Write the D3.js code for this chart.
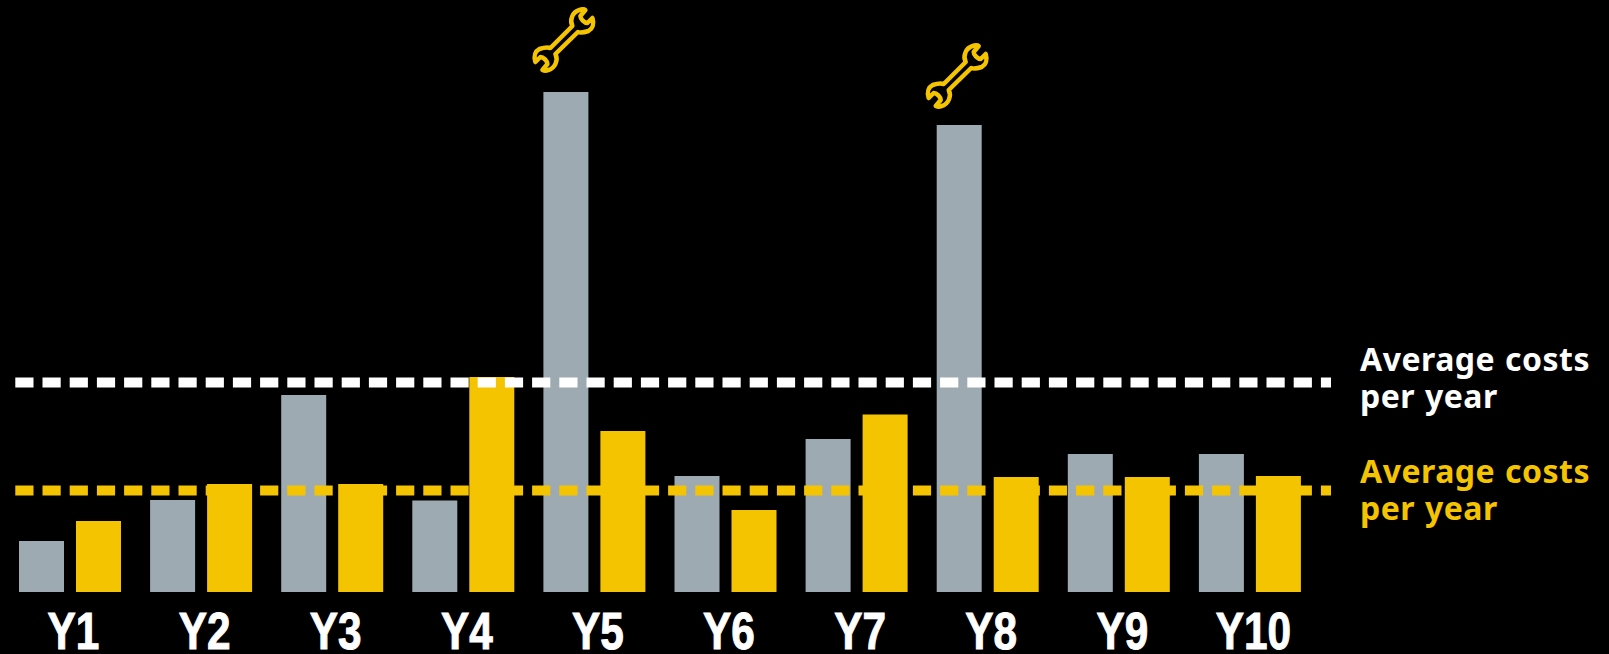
<!DOCTYPE html>
<html>
<head>
<meta charset="utf-8">
<script src="https://cdn.jsdelivr.net/npm/d3@7"></script>
<style>
  html, body { margin: 0; padding: 0; background: #000; overflow: hidden; }
  svg { display: block; }
</style>
</head>
<body>
<div id="chart"></div>
<script>
// Values, as a share of the tallest bar
const years = ["Y1", "Y2", "Y3", "Y4", "Y5", "Y6", "Y7", "Y8", "Y9", "Y10"];
const greyCosts = [10.2, 18.4, 39.4, 18.3, 100, 23.2, 30.6, 93.4, 27.6, 27.6];
const yellowCosts = [14.2, 21.6, 21.6, 43, 32.2, 16.4, 35.5, 23, 23, 23.2];
const greyAverage = 41.9;
const yellowAverage = 20.3;
const averageLabel = ["Average costs", "per year"];
const repairYears = ["Y5", "Y8"];

const width = 1609, height = 654;
const grey = "#9eaab2", yellow = "#f5c400";
const baseline = 592, top100 = 92;

const svg = d3.select("#chart").append("svg")
  .attr("width", width).attr("height", height);

// Groups are about 131px apart, first one starts at 19
const x = d3.scaleBand().domain(years).range([19, 1330]).padding(0);
const y = d3.scaleLinear().domain([0, 100]).range([baseline, top100]);
const barW = 45;
const barGap = 12;

// grey bars
svg.selectAll(".grey").data(years).enter().append("rect")
  .attr("class", "grey")
  .attr("x", (d) => x(d))
  .attr("y", (d, i) => y(greyCosts[i]))
  .attr("width", barW)
  .attr("height", (d, i) => baseline - y(greyCosts[i]))
  .attr("fill", grey);

// dashed averages
function avgLine(value, color) {
  svg.append("line")
    .attr("x1", 15.3).attr("x2", 1331)
    .attr("y1", y(value)).attr("y2", y(value))
    .attr("stroke", color)
    .attr("stroke-width", 10)
    .attr("stroke-dasharray", "18.2 9");
}
avgLine(yellowAverage, yellow);

// yellow bars
svg.selectAll(".yellow").data(years).enter().append("rect")
  .attr("class", "yellow")
  .attr("x", (d) => x(d) + barW + barGap)
  .attr("y", (d, i) => y(yellowCosts[i]))
  .attr("width", barW)
  .attr("height", (d, i) => baseline - y(yellowCosts[i]))
  .attr("fill", yellow);

avgLine(greyAverage, "#fff");

// year labels, squeezed because no condensed face is installed
svg.append("g")
  .attr("transform", `translate(0,${baseline})`)
  .call(d3.axisBottom(x).tickSize(0).tickPadding(0))
  .call((g) => g.select(".domain").remove())
  .selectAll("text")
  .attr("y", 0)
  .attr("dy", 0)
  .attr("transform", `translate(${barW + barGap / 2 - x.bandwidth() / 2 + 3.5},57) scale(0.83,1)`)
  .attr("text-anchor", "middle")
  .style("font-family", "'Liberation Sans', sans-serif")
  .style("font-weight", "700")
  .style("font-size", "51px")
  .attr("fill", "#fff")
  .attr("stroke", "#fff")
  .attr("stroke-width", 1);

// side labels
[["#fff", 371], [yellow, 483]].forEach(([color, y0]) => {
  const t = svg.append("text")
    .attr("fill", color)
    .style("font-family", "'Noto Sans', sans-serif")
    .style("font-weight", "700")
    .style("font-size", "32px")
    .style("letter-spacing", "0.5px")
    .style("word-spacing", "1px");
  averageLabel.forEach((line, i) => {
    t.append("tspan").attr("x", 1360).attr("y", y0 + i * 37).text(line);
  });
});

// spanner icon over the repair years, drawn in a 64px box
const wrench = "M40 19 C37 13 40 5 47 3 C49 2 52 2 53 3 L48 9 C48 12 52 16 55 16 L60 11 C62 17 60 22 56 24 C53 25 48 26 45.5 25 L23 47 C26 53 23 61 16 63 C14 64 11 64 10 63 L15 57 C15 54 11 50 8 50 L3 55 C1 49 3 44 7 42 C10 41 15 40 18 41 Z";
const iconRaise = { Y5: 85, Y8: 82 };
svg.selectAll(".wrench").data(repairYears).enter().append("path")
  .attr("class", "wrench")
  .attr("d", wrench)
  .attr("fill", "none")
  .attr("stroke", yellow)
  .attr("stroke-width", 4.5)
  .attr("stroke-linejoin", "round")
  .attr("transform", (d) => {
    const v = greyCosts[years.indexOf(d)];
    return `translate(${x(d) - 11},${y(v) - iconRaise[d]})`;
  });
</script>
</body>
</html>
